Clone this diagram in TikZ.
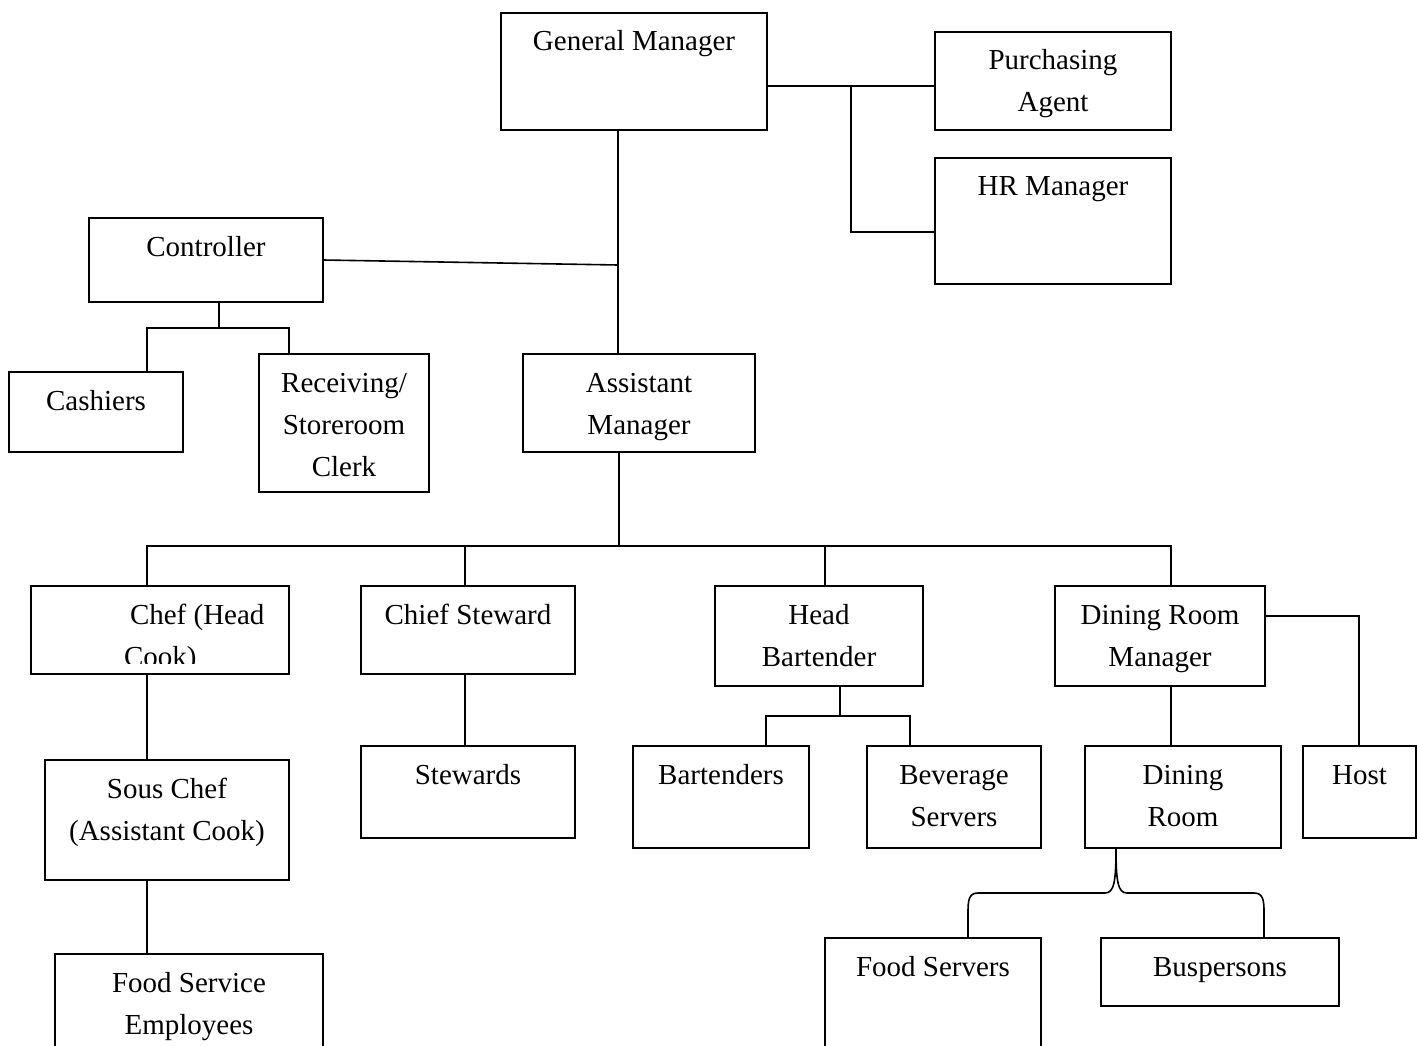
\documentclass[tikz,border=0pt]{standalone}
\usepackage{fontspec}
\setmainfont{Liberation Serif}
\begin{document}
\begin{tikzpicture}[x=1pt,y=-1pt,
  box/.style={draw,line width=1.4pt,inner sep=0pt,outer sep=0pt,rectangle},
  lbl/.style={anchor=north,inner sep=0pt,outer sep=0pt,align=center,font=\fontsize{29}{42}\selectfont,yshift=-8.6pt},
  conn/.style={line width=1.6pt}]
\clip (0,0) rectangle (1417,1046);
\fill[white] (0,0) rectangle (1417,1046);
% boxes
\node[box,minimum width=266pt,minimum height=117pt] (gm) at (634,71.5) {};
\node[box,minimum width=236pt,minimum height=98pt] (pa) at (1053,81) {};
\node[box,minimum width=236pt,minimum height=126pt] (hr) at (1053,221) {};
\node[box,minimum width=234pt,minimum height=84pt] (ctrl) at (206,260) {};
\node[box,minimum width=174pt,minimum height=80pt] (cash) at (96,412) {};
\node[box,minimum width=170pt,minimum height=138pt] (recv) at (344,423) {};
\node[box,minimum width=232pt,minimum height=98pt] (am) at (639,403) {};
\node[box,minimum width=258pt,minimum height=88pt] (chef) at (160,630) {};
\node[box,minimum width=214pt,minimum height=88pt] (cs) at (468,630) {};
\node[box,minimum width=208pt,minimum height=100pt] (hb) at (819,636) {};
\node[box,minimum width=210pt,minimum height=100pt] (drm) at (1160,636) {};
\node[box,minimum width=244pt,minimum height=120pt] (sous) at (167,820) {};
\node[box,minimum width=214pt,minimum height=92pt] (stew) at (468,792) {};
\node[box,minimum width=176pt,minimum height=102pt] (bart) at (721,797) {};
\node[box,minimum width=174pt,minimum height=102pt] (bev) at (954,797) {};
\node[box,minimum width=196pt,minimum height=102pt] (dr) at (1183,797) {};
\node[box,minimum width=113pt,minimum height=92pt] (host) at (1359.5,792) {};
\node[box,minimum width=268pt,minimum height=106pt] (fse) at (189,1007) {};
\node[box,minimum width=216pt,minimum height=122pt] (fs) at (933,999) {};
\node[box,minimum width=238pt,minimum height=68pt] (bus) at (1220,972) {};
% labels
\node[lbl] (tgm) at (gm.north) {\strut General Manager};
\node[lbl] (tpa) at (pa.north) {\strut Purchasing\\Agent};
\node[lbl] (thr) at (hr.north) {\strut HR Manager};
\node[lbl] (tctrl) at (ctrl.north) {\strut Controller};
\node[lbl] (tcash) at (cash.north) {\strut Cashiers};
\node[lbl] (trecv) at (recv.north) {\strut Receiving/\\Storeroom\\Clerk};
\node[lbl] (tam) at (am.north) {\strut Assistant\\Manager};
\begin{scope}
\clip (0,586) rectangle (1417,663);
\node[lbl,anchor=north west,align=left] (tchef) at (chef.north -| 130,0) {\strut Chef (Head\\\hspace*{-6pt}Cook)};
\end{scope}
\node[lbl] (tcs) at (cs.north) {\strut Chief Steward};
\node[lbl] (thb) at (hb.north) {\strut Head\\Bartender};
\node[lbl] (tdrm) at (drm.north) {\strut Dining Room\\Manager};
\node[lbl] (tsous) at (sous.north) {\strut Sous Chef\\(Assistant Cook)};
\node[lbl] (tstew) at (stew.north) {\strut Stewards};
\node[lbl] (tbart) at (bart.north) {\strut Bartenders};
\node[lbl] (tbev) at (bev.north) {\strut Beverage\\Servers};
\node[lbl] (tdr) at (dr.north) {\strut Dining\\Room};
\node[lbl] (thost) at (host.north) {\strut Host};
\node[lbl] (tfse) at (fse.north) {\strut Food Service\\Employees};
\node[lbl] (tfs) at (fs.north) {\strut Food Servers};
\node[lbl] (tbus) at (bus.north) {\strut Buspersons};
% junctions
\coordinate (jc) at (618,265);
\coordinate (jp) at (851,86);
\coordinate (jh) at (851,232);
\coordinate (jct) at (219,328);
\coordinate (cl) at (147,328);
\coordinate (cr) at (289,328);
\coordinate (ja) at (619,546);
\coordinate (jl) at (147,546);
\coordinate (jr) at (1171,546);
\coordinate (j2) at (465,546);
\coordinate (j3) at (825,546);
\coordinate (jb) at (840,716);
\coordinate (jbl) at (766,716);
\coordinate (jbr) at (910,716);
\coordinate (jh2) at (1359,616);
\coordinate (bx) at (1116,893);
\coordinate (bl) at (968,893);
\coordinate (br) at (1264,893);
% connectors
\draw[conn] (gm.south -| jc) -- (jc) -- (am.north -| jc);
\draw[conn] (ctrl.east) -- (jc);
\draw[conn] (gm.east |- jp) -- (pa.west |- jp);
\draw[conn] (jp) -- (jh) -- (hr.west |- jh);
\draw[conn] (ctrl.south -| jct) -- (jct);
\draw[conn] (cash.north -| cl) -- (cl) -- (cr) -- (recv.north -| cr);
\draw[conn] (am.south -| ja) -- (ja);
\draw[conn] (chef.north -| jl) -- (jl) -- (jr) -- (drm.north -| jr);
\draw[conn] (j2) -- (cs.north -| j2);
\draw[conn] (j3) -- (hb.north -| j3);
\draw[conn] (chef.south -| jl) -- (sous.north -| jl);
\draw[conn] (sous.south -| jl) -- (fse.north -| jl);
\draw[conn] (cs.south -| j2) -- (stew.north -| j2);
\draw[conn] (hb.south -| jb) -- (jb);
\draw[conn] (bart.north -| jbl) -- (jbl) -- (jbr) -- (bev.north -| jbr);
\draw[conn] (drm.south -| jr) -- (dr.north -| jr);
\draw[conn] (drm.east |- jh2) -- (jh2) -- (host.north -| jh2);
\draw[conn] (dr.south -| bx) .. controls (1116,882) and (1114,893) .. (1105,893)
  -- (978,893) .. controls (969,893) and (968,900) .. (968,912) -- (fs.north -| bl);
\draw[conn] (dr.south -| bx) .. controls (1116,882) and (1118,893) .. (1127,893)
  -- (1254,893) .. controls (1263,893) and (1264,900) .. (1264,912) -- (bus.north -| br);
\end{tikzpicture}
\end{document}
